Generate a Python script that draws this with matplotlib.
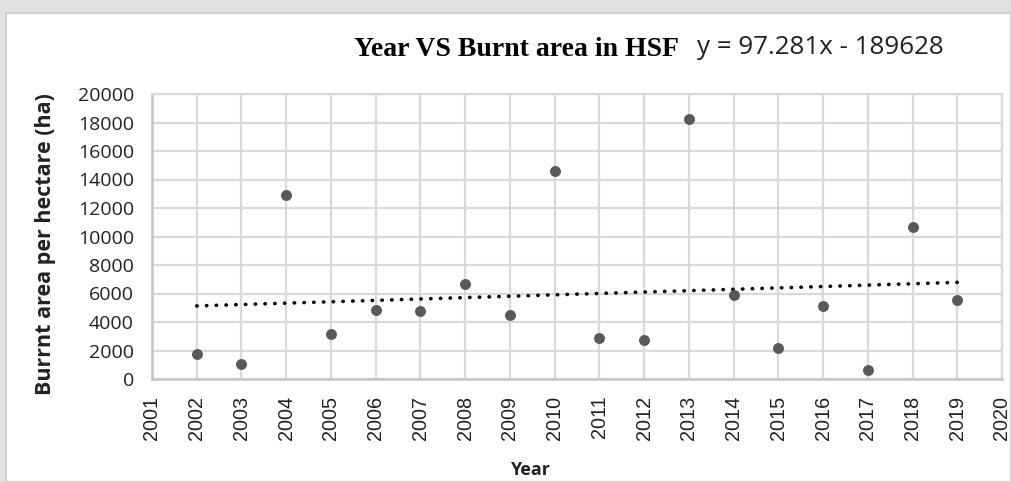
import numpy as np
import matplotlib.pyplot as plt
from matplotlib.patches import Rectangle

# Data
years = [2002, 2003, 2004, 2005, 2006, 2007, 2008, 2009, 2010,
         2011, 2012, 2013, 2014, 2015, 2016, 2017, 2018, 2019]
burnt_area = [1740, 1060, 12890, 3170, 4860, 4790, 6650, 4510, 14600,
              2850, 2770, 18220, 5870, 2180, 5120, 660, 10700, 5540]

# trendline as printed on the chart
slope = 97.281
intercept = -189628

x_ticks = list(range(2001, 2021))
y_ticks = list(range(0, 20001, 2000))

fig = plt.figure(figsize=(10.11, 4.82), dpi=100)
fig.patch.set_facecolor('#e1e1e1')

# white chart panel
panel = Rectangle((6 / 1011, 0), 1 - 6 / 1011, 1 - 13 / 482,
                  transform=fig.transFigure, facecolor='white',
                  edgecolor='#d0d0d0', linewidth=1.5, zorder=-5)
fig.patches.append(panel)

ax = fig.add_axes([152 / 1011, 1 - 379 / 482, 850 / 1011, 285 / 482])
ax.set_facecolor('white')

ax.scatter(years, burnt_area, s=62, color='#595959', zorder=3, linewidths=0)

tx = np.array([years[0], years[-1]])
ax.plot(tx, slope * tx + intercept, color='black', linestyle=(0, (0.1, 2.6)),
        linewidth=2.6, dash_capstyle='round', zorder=2)

ax.set_xlim(2001, 2020)
ax.set_ylim(0, 20000)
ax.set_xticks(x_ticks)
ax.set_xticklabels([str(x) for x in x_ticks], rotation=90,
                   fontsize=14.3, family='Liberation Sans', color='#222222')
ax.set_yticks(y_ticks)
ax.set_yticklabels([str(v) for v in y_ticks], fontsize=14,
                   family='Open Sans', color='#222222')
ax.tick_params(axis='x', length=0, pad=12)
ax.tick_params(axis='y', length=0, pad=13)

ax.grid(True, color='#d9d9d9', linewidth=1.6)
ax.set_axisbelow(True)
for side in ['top', 'right']:
    ax.spines[side].set_color('#d9d9d9')
    ax.spines[side].set_linewidth(1.6)
for side in ['left', 'bottom']:
    ax.spines[side].set_color('#c4c4c4')
    ax.spines[side].set_linewidth(1.8)

fig.text(46 / 1011, 1 - 244 / 482, 'Burrnt area per hectare (ha)', rotation=90,
         ha='center', va='center', fontsize=15.5, fontweight='bold',
         family='Open Sans', color='#222222')
fig.text(530 / 1011, 1 - 470 / 482, 'Year', ha='center', va='center',
         fontsize=13, fontweight='bold', family='Open Sans', color='#222222')

fig.text(517 / 1011, 1 - 50 / 482, 'Year VS Burnt area in HSF', ha='center',
         va='center', fontsize=20, fontweight='bold',
         family='Liberation Serif', color='black')
fig.text(697 / 1011, 1 - 48 / 482, 'y = 97.281x - 189628', ha='left',
         va='center', fontsize=18.7, family='Open Sans', color='#222222')

plt.savefig('out.png', dpi=100, facecolor=fig.get_facecolor())
